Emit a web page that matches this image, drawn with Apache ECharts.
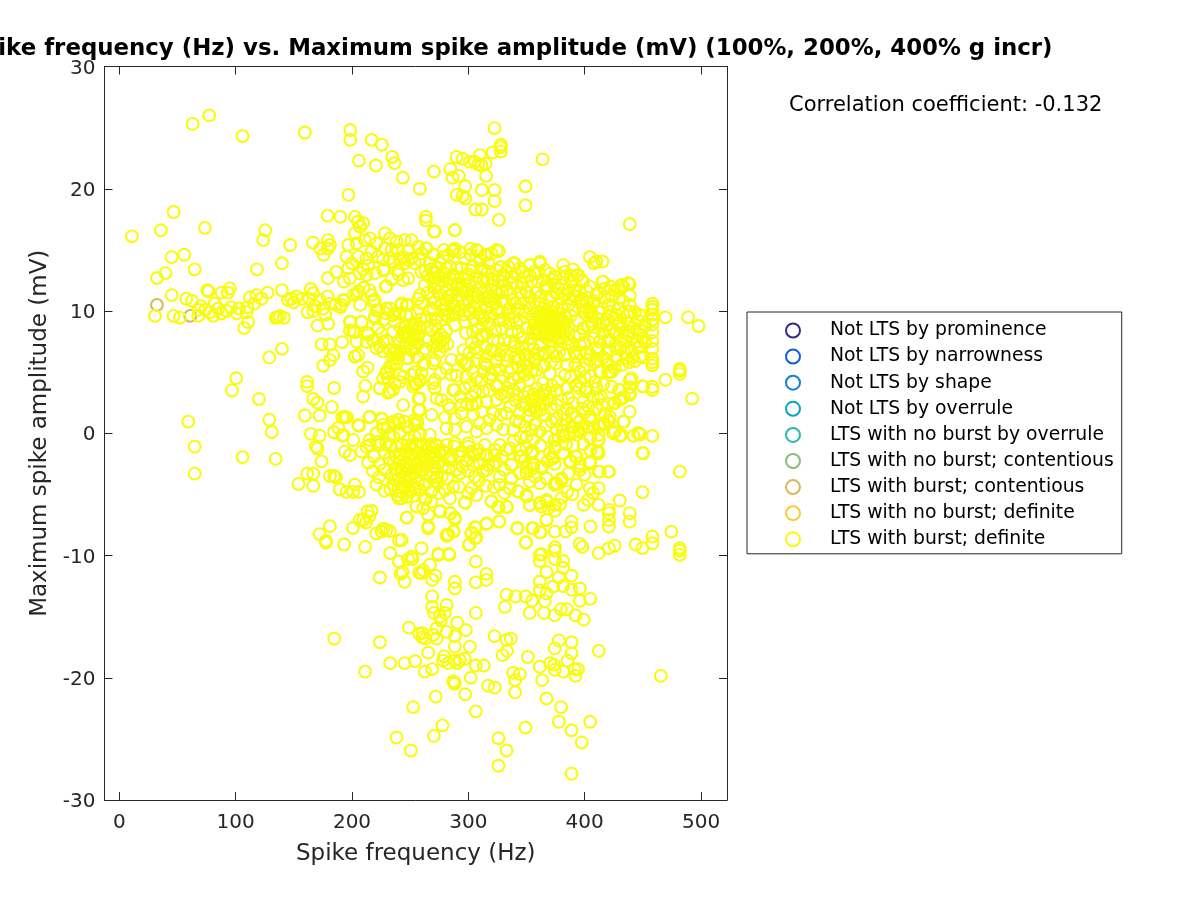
<!DOCTYPE html>
<html>
<head>
<meta charset="utf-8">
<title>Spike frequency vs. Maximum spike amplitude</title>
<script src="https://cdn.jsdelivr.net/npm/echarts@6/dist/echarts.min.js"></script>
<style>
  html, body { margin: 0; padding: 0; background: #fff; }
  #chart { width: 1200px; height: 900px; }
</style>
</head>
<body>
<div id="chart"></div>
<script>
// legend entries, in plot order
const classNames = ['Not LTS by prominence', 'Not LTS by narrowness', 'Not LTS by shape', 'Not LTS by overrule',
  'LTS with no burst by overrule', 'LTS with no burst; contentious', 'LTS with burst; contentious',
  'LTS with no burst; definite', 'LTS with burst; definite'];
const classColors = ['#352a87', '#0f5cdd', '#1481d6', '#06a4ca', '#2eb7a4', '#87bf77', '#d1bb59', '#fec832', '#f9fb0e'];

const xTicks = [0, 100, 200, 300, 400, 500];
const yTicks = [-30, -20, -10, 0, 10, 20, 30];

// the two brown circles
const burstContentious = [[32.4, 10.5], [61, 9.6]];

// yellow circles
const topSparse = [[63,25.3],[77.3,26],[106,24.3],[159.5,24.6],[198.5,24.8],[198.5,24],[216.8,24],[225.7,23.6],[234.6,22.6],[236.6,22.1],[220.5,21.9],[206,22.3],[243.7,20.9],[258.3,20],[197,19.5],[179,17.8],[190,17.7],[202.5,17.7],[205.3,17.3],[209.6,17.2],[207,16.9],[46.7,18.1],[35.8,16.6],[10.9,16.1],[73.6,16.8],[125.4,16.6],[123.7,15.8],[146.9,15.4],[166.4,15.6],[179.3,15.8],[181,15.4],[179.3,15.1],[172.7,15.1],[175.6,14.6],[45,14.4],[55.9,14.6],[64.8,13.4],[118.3,13.4],[139.8,13.9],[39.8,13.1],[32.4,12.7],[179.3,12.7],[186.4,13.2],[229,12],[227.7,13.4],
  [322.5,24.96],[327.9,23.6],[327.9,23.4],[327.9,23.05],[320.8,22.95],[309.9,22.75],[289.9,22.6],[295,22.45],[301.3,22.2],[305.6,22.2],[308.4,22],[311.3,21.9],[314.7,22.05],[363.8,22.4],[270.4,21.4],[284.6,21.6],[286.4,20.9],[291.8,21.05],[315.3,21.05],[297.3,20.2],[311.6,19.9],[322.5,19.9],[349.1,20.2],[289.9,19.5],[295,19.4],[297.3,19.2],[322.5,19],[349.1,18.65],[306.2,18.3],[311.6,18.3],[326.2,17.45],[438.7,17.1],[263.5,17.7],[263.5,17.4],[270.4,16.5],[288.4,16.6]];
const leftBand = [[45,11.3],[75.6,11.7],[76.6,11.6],[95,11.85],[93.4,11.5],[88,11.5],[139.8,11.7],[127.5,11.5],[112.3,11.1],[118,11.3],[122.3,11],[57.6,11],[62.5,10.85],[152.4,11.2],[147.8,11],[164.7,11.8],[166.7,11.45],[163.2,11],[179,11.2],[172.4,10.9],[205.3,11.6],[204,11.4],[193.3,10.85],[30.7,9.6],[46.7,9.6],[52.1,9.45],[67.9,9.6],[80.8,9.6],[92.3,10],[100.8,9.8],[109.5,9.9],[110.8,9.1],[107.4,8.6],[134.4,9.45],[138,9.6],[141.5,9.45],[136,9.5],[128.9,6.2],[139.8,6.9],[100.5,4.5],[96.8,3.5],[120,2.8],[59.3,0.95],[64.8,-1.1],[64.8,-3.3],[106,-1.95],[128.9,1.1],[131,0.1],[134.4,-2.1],
  [70,10.4],[74,10.1],[82,10.6],[85,10.2],[78,9.9],[68,10.1],[88,9.8],[96,10.3],[103,10.2],[116,10.6],[110,10.3],[145,10.9],[150,10.7],[157,11],[168,10.4],[175,10.2],[181,10.6],[186,10.5],[190,10.3],[177,9.7],[162,9.9],[166.7,10],[170.4,8.8],[179.5,8.96],[173.9,7.27],[181,7.27],[191.6,7.45],[198.8,9.1],[208.2,9.1],[198.2,8.4],[202.5,8.25],[183.9,6.4],[181,5.98],[175.3,5.52],[202.5,6.27],[205.4,6.4],[161.5,4.2],[161.5,3.85],[184.7,3.7],[166.7,2.8],[170.4,2.5],[182.7,2.15],[159.5,1.45],[172.2,1.45],[193.9,1.3],[191.6,1.3],[195.6,1.3],[164.7,-0.05],[172.2,-0.2],[188.2,0.45],[184.4,0.08],[191.6,-0.2],[169,-1.1],[170.4,-1.25],[173.8,-2.3],[161.5,-3.3],[166.7,-3.3],[154,-4.15],[166.7,-4.3],[181,-3.5],[184.7,-3.5],[186.2,-3.6],[189.6,-4.6],[195.4,-4.8],[201,-4.8],[202.5,-4.2],[206,-4.8],[181,-7.6],[172.2,-8.25],[177.6,-8.8],[177.6,-8.95],[193.3,-9.1],[200.8,-7.75],[211.3,-9.3]];
const upperLeftCluster = [[206.8,16.9],[202.5,16.35],[215.4,15.94],[228.3,16.35],[232.6,15.94],[196.8,15.4],[211,15.8],[203.9,15.53],[221.1,15.53],[238.3,15.67],[245.4,15.8],[251.2,15.8],[228.3,15.12],[234,14.99],[239.7,14.99],[248.3,14.99],[256.9,15.26],[264,15.12],[259.8,14.71],[271.2,16.5],[195.3,14.44],[205.4,14.44],[212.5,14.3],[222.5,14.44],[232.6,14.3],[241.2,14.3],[248.3,14.17],[258.3,14.17],[196.8,13.49],[206.8,13.08],[212.5,12.94],[226.8,13.35],[239.7,13.35],[244,12.53],[248.3,12.67],[259.8,13.21],[198.2,12.67],[205.4,11.58],[201,11.3],[216.8,11.3],[218.2,10.76],[192.5,10.9],[191,10.5],[258.3,11.3],[262.6,12.12],[259.8,10.62],[242.6,10.62],[248.3,10.49],[222.5,10.08],[232.6,10.2],[219.7,9.4],[236.9,9.8],[246.9,9.67],[198.2,9.12],[208.2,9.12],[201,8.31],[226.8,9.26],[236.9,9.12],[252.6,8.85],[258.3,8.72],[213.9,8.03],[225.4,8.17],[235.4,8.31],[245.4,8.03],[256.9,8.03],[203.9,7.49],[226.8,7.49],[244,14.4],[251.2,14.3],[254,13.9],[245.4,13.9],[235.4,14.03],[216.8,14.85],[226.8,14.2],[209.6,13.4],[240,13],[215,11.7],[219.6,10.9],[229.6,10.2],[242.5,10.5],[257,11],[207,10.5],
  [213.4,8.2],[212.5,7.45],[221,6.95],[218,7.6],[229.6,7.6],[222.5,8.6],[219.6,9.55],[229.6,9.8],[235.4,9.65],[221,10.05],[241,9.8],[247,10.5],[213.4,5.37],[209.6,5.05],[211.5,3.87],[209.6,3],[224,3.7],[231.2,3.3],[235.4,3.55],[229.6,5.05],[231,4.5],[235.4,5.6],[244,4.6],[241,4.2],[254,5],[254,4],[258.3,4.25],[244,2.3],[257.2,2.8],[257.2,1.9],[226.8,6.7],[232.5,6.8],[235.4,6.1],[238.2,5.7],[224,7.1],[246.9,7.35],[249.7,7.9],[255.4,8.45],[252.6,7.6],[244,8.2],[246.9,8.3],[251.2,8.6],[257,7.35],[241,7.5],[251,6.8],[248.3,6.15],[238.2,6.8],[243,7.9],[248,8],[254,8.1],[257,8],[245,7],[250,7.3],[254.5,7],[258,8.6],[246,8.7],[242,8.6],[253,9],[259,9.3],[250,9.7],[256,9.9],[263,6.9],[265,7.6],[240,6.4],[256,6.2],[261,5.6]];
const lowerLeftCluster = [[214.8,1.3],[225.7,1.15],[206,0.6],[212.5,-1.1],[215.3,-0.55],[221,0],[222.5,-0.7],[226.8,0.4],[229.6,-0.8],[235.4,0.95],[235.4,-0.28],[241,0.8],[241,0],[248.3,0.55],[248.3,-0.55],[254,1.1],[254,-0.28],[254,0.68],[258.3,0],[240,1.1],[245,0.95],[231,0.5],[219,-1.9],[224,-2.5],[228,-1.6],[233,-1],[238,-1.1],[243,-0.9],[250,-1.2],[255,-1],[259,-1.1],[214,-2.4],[218,-3.1],[223,-3.6],[228,-3],[232,-2.1],[234,-3.4],[236,-2.4],[238,-1.9],[239,-3],[240,-3.7],[241,-2.3],[242,-1.7],[243,-3.1],[244,-2.7],[245,-3.6],[245,-2],[246,-1.5],[247,-3],[247,-2.4],[248,-4],[249,-2.9],[249,-2],[250,-3.4],[251,-1.7],[251,-2.6],[252,-3.2],[252,-4.2],[253,-2.2],[254,-3],[255,-2],[255,-3.6],[256,-2.6],[257,-1.6],[237,-2.9],[237,-3.8],[235,-4.2],[240,-4.4],[243,-4.8],[246,-4.4],[250,-4.8],[254,-4.5],[257,-4.1],[258,-3.1],[233,-4.6],[239,-5.1],[240.3,-5.35],[247,-5.2],[255.5,-6],[247.2,-6.9],[228,-4.7],[221,-4.2],[213.4,-6.4],[216.8,-6.35],[214.8,-6.8],[209.6,-7.1],[206.6,-7.1],[212,-7.3],[226.8,-7.8],[229.7,-7.9],[232.5,-8],[225.4,-8.05],[221,-8.2],[240.3,-8.75],[232.8,-9.8],[240.3,-10.5],[248.3,-10.3],[252,-10.3],[243.5,-11.35],[241.8,-11.5],[224,-11.8],[245.2,-12.15],[257.8,-11.4],[184.7,-16.8],[224,-17.1],[248.9,-15.9],[257.8,-16.4],[260.6,-16.7],[232.8,-18.8],[245.2,-18.8],[254.3,-18.65],[211.3,-19.5],[252.6,-22.4],[238.3,-24.9],[250.6,-25.95],
  [193.9,1.36],[215.4,1.36],[225.4,1.22],[205.4,0.68],[201,-0.55],[192.5,-0.14],[198.2,-1.78],[208.2,-1.5],[193.9,-1.5],[226.8,0.68],[236.9,0.81],[246.9,0.54],[232.6,-0.14],[221.1,0],[215.4,-0.96],[224,-0.96],[232.6,-1.09],[242.6,-0.96],[251.2,-0.96],[261.2,-0.96]];
const lowerCentre = [[274.5,-9.95],[283.7,-9.95],[306.4,-10.5],[267,-10.75],[261.2,-11.2],[259.8,-11.45],[271.8,-11.65],[268.9,-12],[288.4,-12.15],[288.4,-12.7],[306.4,-12.2],[315.6,-11.5],[315.6,-12],[268.9,-13.35],[268.9,-14.2],[281.3,-14.05],[270.6,-14.7],[279.8,-14.7],[275.5,-15],[276.4,-15.3],[306.4,-14.7],[290.4,-15.5],[272.7,-15.95],[281.3,-16.25],[288.4,-16.6],[297.9,-16.1],[260.6,-16.35],[269.8,-16.5],[263.2,-16.8],[272.7,-16.8],[288.4,-17.45],[301.3,-17.45],[265.5,-17.95],[279.2,-18.25],[278.4,-18.6],[282.7,-18.8],[288.4,-18.6],[290.4,-18.8],[292.7,-18.55],[297,-18.45],[306.4,-19],[313.3,-19],[262.6,-19.5],[268.9,-19.3],[302.1,-20],[287,-20.3],[288.4,-20.4],[288,-20.5],[317,-20.65],[322.8,-20.8],[297.3,-21.35],[272,-21.55],[306.4,-22.75],[277.8,-23.9],[270.4,-24.75],[322.5,-16.6],[332.8,-16.9],[336.5,-16.8],[333.3,-17.8],[329.4,-18.15],[351.1,-18.3],[361.4,-19.1],[363.4,-20.2],[370.6,-18.8],[373.7,-18.95],[374.3,-19.35],[381.5,-19.5],[377.8,-16.95],[388.7,-17.1],[374.3,-17.6],[388.7,-18],[385.2,-18.6],[412.1,-17.8],[391.5,-19.3],[394.3,-19.3],[392.1,-19.85],[465.4,-19.85],[338.5,-19.6],[344.2,-19.7],[340.2,-20.2],[340.2,-21.2],[367.2,-21.7],[379.7,-22.4],[349.1,-24.07],[325.9,-24.95],[332.8,-25.95],[325.9,-27.2],[388.7,-27.85],[377.8,-23.6],[388.7,-24.3],[397.5,-25.3],[404.7,-23.6],[361.4,-9.95],[363,-9.9],[361.4,-10.45],[374.3,-9.6],[374.3,-10.3],[381.5,-10.45],[367.2,-11.35],[381.5,-11],[377.8,-11.8],[388.7,-11.65],[361.4,-12.15],[361.4,-12.85],[367.2,-13.1],[365.7,-13.75],[365.1,-14.7],[352.8,-14.7],[374.3,-14.9],[372.9,-12.55],[381.5,-12.5],[388.7,-12.8],[395.8,-12.7],[395.8,-13.7],[404.7,-13.55],[332.8,-13.2],[331.4,-14.2],[340.6,-13.35],[349.4,-13.35],[354.8,-13.7],[379.5,-14.4],[384.9,-14.4],[392.1,-14.9],[399.2,-15.25]];
const rightEdge = [[458.2,10.6],[458.2,10.35],[458.2,10.1],[458.2,9.7],[458.2,9.3],[458.2,8.9],[458.2,8.25],[458.2,7.55],[458.2,6.9],[458.2,6.1],[458.2,5.8],[458.2,5.55],[469.4,9.48],[488.9,9.48],[497.8,8.77],[481.7,5.26],[481.7,4.85],[481.7,5.1],[492.3,2.83],[469.4,4.36],[458.2,3.8],[458.2,3.54],[449.6,3.85],[458.2,-0.22],[446.3,0],[447.7,-0.1],[442,-0.22],[449.6,-1.61],[481.7,-3.14],[449.6,-4.83],[430.1,-5.5],[420.8,-3.14],[412,-3.14],[412,-1.64],[410.6,-1.5],[412,-0.55],[412,-0.14],[438.7,4.36],[438.7,3.76],[438.7,3.13],[429.4,3.54],[425.7,2.5],[430,2.73],[433.7,2.95],[438.7,1.77],[433.7,0.95],[424.4,0],[430.1,-0.22],[420.8,0.95],[417.2,0.75],[412.9,0.75],[420.8,-6.27],[420.8,-6.54],[420.8,-7.1],[420.8,-7.63],[438.7,-6.54],[438.7,-7.23],[405,-7.63],[388.7,-7.23],[388.7,-7.7],[383.5,-8.03],[474.5,-8.05],[458.2,-8.45],[458.2,-9],[443.8,-9.1],[449.6,-9.4],[481.7,-9.4],[481.7,-9.95],[481.7,-9.6],[425.7,-9.2],[420.8,-9.4],[412,-9.8],[395.8,-9.05],[398,-9.3],[404.4,14.4],[410.1,14.05],[415.3,14.05],[408,13.9],[381.5,13.75],[393.8,12.9],[398.6,12.4],[415.3,12.4],[428.8,11.75],[433,12],[438.7,12.2],[438.7,11.25],[438.7,10.5],[420.8,10.5],[410,11.3],[404,10.3],
  [449,9.6],[446,9.2],[442,8.6],[438,8.3],[432,8.6],[427,8.2],[421,8.4],[416,9],[421,7.7],[426,7.2],[431,7.6],[436,7.5],[441,7.8],[447,8.1],[452,7.4],[446,7],[440,6.8],[434,6.6],[427,6.3],[421,6.7],[416,6.2],[420,5.6],[426,5.3],[432,5.6],[438,5.8],[443,5.9],[450,6.2],[420,5],[414,5],[409,5.8],[410,7],[405,6.4],[403,8.8],[408,8.3],[411,9.4],[404,9.9],[415,10.2],[408,10.8],[417,11.1],[423,11.2],[402,11.6],[398,11],[429,10.2],[433,10.8],[426,9.4],[437,9.6],[416,4],[423,3.8],[409,4.2],[414,3],[407,3],[401,3.4],[420,2.4],[410,2],[405,1.4],[417,1.6],[402,0.5],[407,0.4],[398,2],[396,4.2],[399,5.3],[396,6.6],[400,7.4]];
const upperMiddle = [[263.5,15.1],[286.4,14.9],[288.4,15.1],[308.2,14.9],[326.2,14.9],[315.6,14.6],[339.9,13.9],[361.4,13.9],[352.8,13.75],[288.4,16.62],[287,14.99],[307,14.99],[324.2,14.99],[282.7,14.58],[297,14.3],[314.2,14.58],[309.9,14.17],[317,13.9],[266.9,13.9],[275.5,13.9],[284.1,13.62],[294.1,13.49],[304.2,13.62],[271.2,13.21],[275.5,12.8],[284.1,12.67],[297,12.67],[307,12.8],[317,13.21],[324.2,13.35],[229.7,12.04],[271.2,11.85],[281.2,11.71],[289.8,11.85],[299.9,11.71],[309.9,11.85],[319.9,12.12],[324.2,11.58],[269.8,11.17],[281.2,10.9],[291.3,10.9],[302.7,11.17],[314.2,11.03],[321.3,11.17],[269.8,10.08],[281.2,10.2],[292.7,10.08],[304.2,10.35],[315.6,10.2],[324.2,10.08],[276.9,9.26],[287,9.67],[288.4,8.85],[297,9.12],[312.8,9.53],[308.5,8.58],[272.7,7.76],[312.8,7.9],[321.3,7.63],[272.7,13.5],[278.4,12.4],[287,12.94],[291.3,12.26],[295.6,11.58],[275.5,11.3],[285.5,11.3],[294.1,12],[301.3,12.26],[269.8,12.4],[289.8,13.5],[281.2,13.5],[288.4,10.35],[297,10.5],[307,10.76],[278,14.4],[302,14.6],[311,13.4],[300,13],[265,12.9],[326,12.5],[318,11.2],[313,12.5],[304,11.6],[277,10.5],[285,10.6],[296,9.7],[309,9.8],[319,9.6],
  [338.6,13.9],[361.5,14.04],[352.9,13.76],[334.3,13.63],[344.3,13.49],[357.2,13.22],[365.8,13.36],[370.1,13.08],[330,12.95],[337.1,12.81],[348.6,12.81],[364.3,12.54],[372.9,12.54],[394.4,12.95],[397.3,12.54],[381.5,12.67],[388.7,12.4],[415.9,12.4],[437.4,12.27],[431.6,12.13],[425.9,11.72],[404.4,11.99],[395.8,11.58],[385.8,11.72],[377.2,11.86],[411.6,11.45],[438.8,9.95],[420.2,10.49],[421.6,9.95],[407.3,10.63],[404.4,10.08],[418.7,9.27],[427.3,9.68],[430.2,9.13],[437.4,9],[447.4,8.45],[450.3,7.77],[437.4,8.04],[447.4,7.09],[437.4,6.95],[447.4,6.27],[425.9,8.18],[413,8.86],[405.9,9.54],[395.8,10.77],[391.5,10.08],[387.2,11.04],[398.7,8.59],[395.8,8.04],[407.3,7.77],[415.9,8.18],[420.2,7.49],[427.3,6.95],[411.6,6.81],[395.8,7.22],[382.9,6.4],[350,8.59],[348.6,6.4],[340,7.09],[332.8,6.4],[337.1,8.31],[334.3,9.68],[331.4,10.77],[340,10.63],[352.9,10.22],[344.3,9.27],[354.3,7.77],[370.1,7.49],[377.2,8.31],[358.6,9.95],[364.3,9.54],[370.1,9.81],[375.8,9.4],[382.9,9.54],[361.5,8.86],[368.6,8.72],[374.4,8.45],[381.5,8.86],[358.6,8.18],[365.8,8.18],[371.5,7.9],[378.7,7.77],[364.3,10.22],[372.9,10.36],[380.1,10.22],[342,12],[350,11.6],[336,11.4],[358,11.5],[366,11.8],[372,11.2],[380,11],[388,12.9],[345,10.6],[329,10.9]];
const denseRight = [[355,9.6],[357,9],[358,8.5],[360,9.5],[360,8.9],[361,8.2],[362,9.9],[363,9.3],[363,8.7],[364,8],[365,9.6],[365,9],[366,8.4],[367,7.8],[367,10],[368,9.3],[368,8.7],[369,8.1],[370,9.6],[370,9],[371,8.4],[371,7.6],[372,9.9],[373,9.2],[373,8.7],[374,8],[375,9.5],[375,8.9],[376,8.3],[377,7.7],[377,9.8],[378,9.1],[379,8.5],[379,7.9],[380,9.4],[381,8.8],[382,8.2],[383,9.6],[383,9],[384,8.4],[385,7.7],[364.3,6.4],[375.8,6.27],[393,6.27],[404.4,6],[418.7,6],[435.9,6.13],[427.3,6],[344.3,6.13],[356,6.9],[362,7.2],[389,7.2],[385,5.6],[375,5.7],[365,5.5]];
const middleLeft = [[276,8.1],[273,7.8],[276,7.4],[279,7.8],[278,7.1],[274,7.2],[270,7.1],[282,7.3],[268.6,8.4],[265,8.7],[272,8.8],[281,8.4],[311.3,8.04],[308.4,7.63],[319.9,6.81],[327,6.4],[339.9,7.36],[350,6.4],[325.6,7.49],[315.6,8.17],[312.7,9.26],[327,9.26],[341.4,9],[355.7,8.45],[282.6,9.54],[266.9,10.08],[301.3,9.81],[297,5.72],[285.5,6],[269.8,5.72],[299.8,5.72],[314.1,5.72],[327,5.18],[344.2,6],[271.2,4.36],[269.8,4.1],[287,3.54],[301.3,3.95],[311.3,4.36],[324.2,3.81],[335.6,4.1],
  [202.5,6.27],[224,3.68],[232.6,3.4],[236.9,4.09],[241.2,4.77],[229.7,4.9],[232.6,5.45],[226.8,4.49],[258.3,2.86],[258.3,1.9],[272.7,2.86],[268.4,1.5],[256,1],[256,0.8],[255.5,4.09],[271.2,3.68],[258.3,4.36],[252.6,3.81],[251.2,4.77],[259.8,4.9],[239.7,6.13],[246.9,6.13],[235.4,6.54],[251.2,6.81],[262.6,5.72],[271.2,5.99],[275.5,6.67],[261.2,6.67],[281.2,5.31],[294.1,5.99],[298.4,5.58],[307,5.99],[315.6,5.58],[324.2,5.86],[305.6,6.95],[319.9,6.81],[285.5,4.77],[288.4,3.54],[297,3.68],[307,4.49],[318.5,4.49],[324.2,3.95],[312.8,3.4],[302.7,3],[315.6,2.59],[324.2,2.72],[307,2.45],[282.7,2.31],[284.1,2.04],[294.1,2.31],[294.1,1.63],[288.4,1.22],[304.2,1.5],[311.3,1.77],[321.3,1.63],[281.2,0.4],[288.4,0.27],[298.4,0.54],[307,0.13],[315.6,0.4],[324.2,0.68],[288.4,-0.82],[281.2,-0.96],[299.9,-0.82],[304.2,-1.78],[294.1,-1.5],[314.2,-0.96],[322.8,-1.78],[284.1,-2.05],[271.2,-2.05],[266.9,-0.14],[258.3,-0.14],[272.7,-0.96]];
const denseCentre = [[413,5.03],[421.6,5.03],[440.2,4.49],[450.3,3.81],[430.2,3.54],[438.8,3.26],[431.6,2.85],[425.9,2.45],[421.6,1.35],[433.1,0.95],[425.9,0.13],[431.6,-0.14],[445.9,0],[450.3,-1.64],[410.2,3.67],[401.6,3.67],[395.8,3.67],[411.6,2.85],[398.7,2.58],[390.1,2.45],[388.7,1.63],[404.4,1.08],[395.8,0.95],[415.9,0.81],[420.2,1.08],[413,0.54],[388.7,0.54],[394.4,0.13],[387.2,0],[381.5,-0.28],[374.4,-0.55],[374.4,-1.23],[372.9,-2.05],[381.5,-1.64],[411.6,-0.55],[411.6,-1.5],[393,-1.92],[387.2,-2.33],[395.8,-2.73],[404.4,-2.33],[413,-3.14],[420.2,-3.14],[337.1,-2.6],[337.1,-3.69],[355.7,-1.51],[344.3,-1.37],[335.7,-1.23],[348.6,-2.19],[355.7,-2.87],[362.9,-2.73],[367.2,-3.69],[380.1,-3.69],[352.9,-3.96],[375.8,2.31],[371.5,0.95],[361.5,0.13],[350,-0.28],[338.6,0.26],[332.8,1.63],[331.4,2.99],[338.6,4.49],[347.1,5.03],[358.6,5.17],[370,4.9],[383,4.76],[395.8,5.03],[384.4,3.67],[344.3,3.94],[351.4,3.4],[358.6,3.67],[364.3,3.13],[354.3,2.72],[361.5,2.45],[368.6,2.72],[347.1,2.31],[340,2.72],[344.3,1.63],[351.4,1.35],[358.6,1.76],[365.8,1.49],[348.6,0.54],[354.3,0.26],[356,3.2],[361,3],[366,3.5],[350,2.4],[357,2.2],[362,1.9],[370,3.3],[365,2.4],[371,2],[353,1.9],[348,3],[376,3.5],[364,4.1],[352,4.3],[342,3.2],[367,0.6],[357,0.7],[344,0.9],
  [381.5,-0.15],[390.7,0.5],[390.7,0.13],[395.3,0.13],[398.6,0.4],[354.3,-1.65],[345.7,-1.9],[355.8,-2.45],[337,-2.6],[350,-2.85],[344.2,-3.25],[363,-2.9],[357.2,-3.55],[374.3,-0.55],[374.3,-1.1],[372,-1.95],[374.3,-2.5],[392.1,-1.9],[388,-2.27],[395.8,-3],[404.4,-2.45],[395.8,-2.45],[326.9,-4.2],[335.6,-4.5],[342.8,-4.75],[350,-5.05],[352.8,-5.86],[361.4,-5.68],[367.2,-5.6],[362.9,-6],[374.3,-6.35],[367.2,-7.1],[378.6,-5.86],[380,-5.3],[389.3,-5],[399.2,-5.86],[404.4,-4.5],[412,-4.5],[402.9,-5.45],[407.2,-4.9],[412,-5.86],[380,-3.83],[375.9,-4.1],[374.3,-4.23],[355.8,-7.77],[361.4,-8.1],[374.3,-8.05],[341.9,-7.77],[349.4,-8.95],[326.7,-7.23],[315.6,-7.43],[306.4,-7.7],[302.6,-8.2],[305.7,-8.6],[300.9,-9.1],[287.4,-8.03],[281.7,-8.4],[283,-8.3],[265.5,-7.6],[288.4,-6.9],[284.7,-6.55],[276,-6.35],[333.3,-6.05],[326.2,-6.05],[319.9,-5.55],[297.3,-5.7]];
const lowerMiddle = [[262,-2.1],[264,-1.3],[266,-2.5],[267,-1.6],[268,-0.9],[269,-2],[270,-1.2],[271,-2.8],[272,-1.8],[273,-1],[274,-2.4],[275,-1.5],[258,-2.3],[260,-3],[264,-3.3],[268,-3.6],[273,-3.6],[278,-2.7],[280,-1.6],[283,-2.9],[286,-1.9],[308.5,-1.37],[322.8,-1.37],[302.8,-1.5],[354.3,-1.5],[337.1,-2.59],[337.1,-3.69],[321.4,-2.59],[312.8,-3.14],[305.6,-3.55],[327.1,-3.55],[302.8,-4.5],[307,-5.05],[320,-5.59],[325.7,-6],[332.8,-6],[297,-5.65],[315.7,-7.37],[326.3,-7.23],[305.6,-7.69],[302.8,-8.13],[307,-8.54],[300.5,-9.14],[342.3,-7.77],[354.9,-7.77],[362.1,-8.1],[349.5,-8.92],[374.4,-9.33],[259.8,-9.41],[274.1,-9.87],[283.3,-9.87],[251.2,-10.09],[242.6,-8.73],[246.9,-6.9],[265.5,-7.77],[265.5,-6.68],[255.5,-6],[261.2,-6.14],[263.5,-5.38],[275.6,-6.41],[284.2,-6.55],[288.5,-7.04],[287,-8.05],[281.3,-8.32],[361.5,-5.73],[352.9,-5.87],[367.2,-5.46],[368.6,-6.14],[367.2,-7.09],[374.4,-5.87],[332.8,-1.37],[344.3,-1.91],[355.8,-2.6],[350,-3.28],[342.9,-4.78],[350,-5.18],[361.5,-4.09],[374.4,-4.09],[370,-1.64],[350,-1.23],[274.1,-4.09],[279.9,-4.64],[284.2,-5.32],[277,-3.55],[269.8,-3.28],[287,-4.37],[292.8,-3.28],[298.5,-2.19],[289.9,-3],[282.7,-2.19],[309.9,-2.46],[315.7,-1.78],[327.1,-0.96],[258.4,-4.64],[248.4,-4.64],[242.6,-5.32],[263,-4.2],[268,-4.8],[271,-3.9],[292,-1.9],[300,-3.1],[316,-3],[304,-2.6],[266,-1.1],[261,-1.9],[270,-2.4],[263,-2.7]];
// extra circles where the rings overlap too much to separate, placed by eye
const overlapFill = [[333,13.2],[341,13],[347,13.2],[353,12.9],[360,13.1],[367,12.1],[354,12.4],[346,12.2],[338,12.3],[331,12.1],[375,12.8],[383,13.2],[390,13.4],[360,12.4],[352,11.2],[345,11.5],[338,10.9],[333,11.7],[362,11.2],[369,10.9],[376,11.4],[383,11.3],[391,11.2],[398,10.4],[386,10.5],[343,10.1],[349,9.9],[335,10.2],[329,9.9],[357,10.8],[352,10.6],[362,10.6],[368,11.9],[374,12.1],[380,12.1],[392,12.1],
  [268,13.4],[279,13.1],[290,12.8],[302,13.3],[312,13.5],[321,12.6],[328,13.6],[265,11.5],[274,12.2],[283,11.2],[292,11.3],[300,10.9],[308,11.2],[316,11.5],[323,10.6],[329,11.5],[271,10.7],[279,10.1],[288,9.9],[300,10],[311,10.4],[318,10.8],[326,9.9],[330,9.3],[316,9.1],[305,9.3],[280,9.7],[272,9.4],[264,9.5],[298,11.5],[286,12.2],[307,12.3],[317,12.6],[329,12.4],[272,12.7],[263,13.3],[293,14.8],[270,14.6],[279,15],[320,14.7],[302,15.1],
  [331,7.6],[336,7.5],[343,8.3],[347,7.8],[352,7.3],[323,8.4],[329,8.6],[335,9],[339,9.5],[318,8.9],[304,8.3],[298,8.2],[303,7.4],[315,7],[322,6.7],[333,5.9],[340,6.2],[346,7],[352,6],[357,6.1],[329,6.9],[337,5.3],[343,5.4],[351,5.5],[323,5.2],[316,6.3],[308,6.6],[301,6.6],[296,6.8],
  [330,4.6],[318,3.5],[306,3.4],[328,1.5],[318,1.1],[310,0.8],[303,2.3],[330,0.3],[293,3],[299,2.4],[280,1.3],[277,2.7],[276,4.9],[290,4.7],[298,4.6],[304,5],[313,5],[328,3.2],[320,4.8],[335,5],[334,3.4],
  [377,4.2],[372,3.9],[380,2.7],[386,2.9],[382,1.6],[376,1.2],[371,5.8],[364,5.5],[357,5.9],[378,6.6],[372,6.6],[366,6.6],[360,6.5],[388,4.6],[392,5.6],[354,5],[349,4.8],[343,4.6],[339,3.5],[336,2.2],[341,1],[339,-0.6],[345,-0.3],[356,-0.5],[362,-1],[368,-0.3],[380,0.7],[384,-0.9],[368,-2.3],[376,0.3],[384,1.1],
  [388,9.6],[394,9.2],[399,9.9],[386,8.7],[391,7.9],[401,6.6],[391,6.7],[386,7.3],[413,7.5],[406,8.9],[419,8.8],[428,8.9],[433,9.8],[443,9.9],[447,9.7],[452,8.8],[412,9.9],[417,11.8],[422,12],[391,11.7],[402,10.7],[430,11.1],[445,7.5],[441,6.2],[431,7],[423,5],[411,6],[400,4.6],[392,3.9],[405,4.7],
  [403,2.2],[393,1.3],[400,1.7],[385,2],[381,0.2],[415,2.3],[405,-0.4],[399,-0.9],[405,-1.4],[390,-1],[386,-3.3],[400,-3.4],[393,-4.2],[385,-4.8],
  [300,-1.1],[310,-1.7],[317,-2.6],[324,-2.4],[331,-3],[329,-1.9],[295,-2.7],[288,-1.1],[278,-1.4],[282,-3.7],[292,-4.4],[309,-3.9],[315,-4.3],[322,-4.4],[331,-4.9],[300,-4.9],[275,-4.9],[262,-5.3],[268,-5.6],
  [214,13.7],[220,13.1],[234,12.6],[210,11.9],[200,13.9],[193,12.4]];

const burstDefinite = [].concat(topSparse, leftBand, upperLeftCluster, lowerLeftCluster, lowerCentre,
  rightEdge, upperMiddle, denseRight, middleLeft, denseCentre, lowerMiddle, overlapFill);

const seriesData = [[], [], [], [], [], [], burstContentious, [], burstDefinite];

const chart = echarts.init(document.getElementById('chart'));
const inkColor = '#262626';
const fontName = '"DejaVu Sans"';
const xMin = -12.7, xMax = 522.3;

const option = {
  animation: false,
  backgroundColor: '#fff',
  title: [
    {
      text: 'Spike frequency (Hz) vs. Maximum spike amplitude (mV) (100%, 200%, 400% g incr)',
      left: 504, top: 33, textAlign: 'center',
      textStyle: { fontFamily: fontName, fontSize: 22.87, fontWeight: 'bold', color: '#000' }
    },
    {
      text: 'Correlation coefficient: -0.132',
      left: 784, top: 90,
      textStyle: { fontFamily: fontName, fontSize: 21, fontWeight: 'normal', color: '#000' }
    }
  ],
  grid: { left: 104.5, top: 66.5, width: 622.5, height: 733.5, containLabel: false },
  legend: {
    left: 747, top: 312,
    orient: 'vertical',
    padding: [9, 8, 5, 38],
    itemWidth: 64, itemHeight: 14, itemGap: 7.1,
    borderColor: inkColor, borderWidth: 1, backgroundColor: '#fff',
    selectedMode: false,
    textStyle: { fontFamily: fontName, fontSize: 18.8, color: '#000' },
    data: classNames.map((name, i) => ({
      name: name, icon: 'circle',
      itemStyle: { color: 'transparent', borderColor: classColors[i], borderWidth: 2 }
    }))
  },
  xAxis: [
    {
      type: 'value', min: xMin, max: xMax, position: 'bottom',
      name: 'Spike frequency (Hz)', nameLocation: 'middle', nameGap: 43,
      nameTextStyle: { fontFamily: fontName, fontSize: 23, color: inkColor },
      axisLine: { onZero: false, lineStyle: { color: inkColor, width: 1 } },
      axisTick: { inside: true, length: 8, lineStyle: { color: inkColor }, customValues: xTicks },
      axisLabel: { fontFamily: fontName, fontSize: 20, color: inkColor, margin: 13, customValues: xTicks },
      splitLine: { show: false }
    },
    {
      type: 'value', min: xMin, max: xMax, position: 'top',
      axisLine: { onZero: false, lineStyle: { color: inkColor, width: 1 } },
      axisTick: { inside: true, length: 8, lineStyle: { color: inkColor }, customValues: xTicks },
      axisLabel: { show: false },
      splitLine: { show: false }
    }
  ],
  yAxis: [
    {
      type: 'value', min: -30, max: 30, position: 'left',
      name: 'Maximum spike amplitude (mV)', nameLocation: 'middle', nameGap: 50,
      nameTextStyle: { fontFamily: fontName, fontSize: 23, color: inkColor },
      axisLine: { onZero: false, lineStyle: { color: inkColor, width: 1 } },
      axisTick: { inside: true, length: 8, lineStyle: { color: inkColor }, customValues: yTicks },
      axisLabel: {
        color: inkColor, margin: 9, customValues: yTicks,
        formatter: value => '{t|' + value + '}',
        rich: { t: { fontFamily: fontName, fontSize: 20, color: inkColor, padding: [4, 0, 0, 0] } }
      },
      splitLine: { show: false }
    },
    {
      type: 'value', min: -30, max: 30, position: 'right',
      axisLine: { onZero: false, lineStyle: { color: inkColor, width: 1 } },
      axisTick: { inside: true, length: 8, lineStyle: { color: inkColor }, customValues: yTicks },
      axisLabel: { show: false },
      splitLine: { show: false }
    }
  ],
  series: classNames.map((name, i) => ({
    name: name,
    type: 'scatter',
    xAxisIndex: 0,
    yAxisIndex: 0,
    data: seriesData[i],
    symbol: 'circle',
    symbolSize: 11.8,
    itemStyle: { color: 'transparent', borderColor: classColors[i], borderWidth: 2.1, opacity: 1 },
    silent: true
  }))
};

chart.setOption(option);
</script>
</body>
</html>
